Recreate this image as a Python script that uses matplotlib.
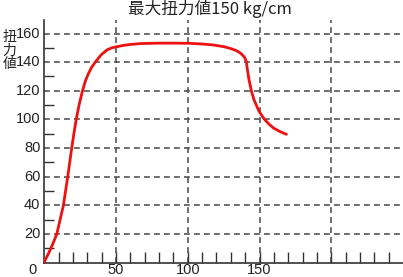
import matplotlib
matplotlib.use("Agg")
import matplotlib.pyplot as plt
import numpy as np

plt.rcParams['font.family'] = ['Noto Sans CJK JP', 'DejaVu Sans']

# torque curve
rpm = [0, 0.5, 2, 4, 6.3, 8.7, 11, 13.3, 14.8, 16.3, 17.7, 19.1, 20.6, 22.2, 24.3,
       26.6, 28.6, 30.8, 33, 35.5, 39.5, 43.6, 47, 50.6, 55, 60, 67, 80, 90, 100.7,
       110, 118, 125.2, 130, 134, 136.9, 139.5, 140.8, 141.5, 142.7, 144.3, 146.2,
       149.5, 153.1, 156.5, 160, 164.5, 168.8]
torque = [0, 1.7, 4.5, 8.7, 14, 20, 30, 40, 50, 60, 70, 80, 90, 100, 110.5,
          120, 126.8, 132.2, 136.5, 140, 145, 148.5, 150, 150.8, 151.7, 152.4, 153,
          153.3, 153.3, 153.2, 152.7, 152, 150.8, 149.5, 148, 146.2, 143.5, 140.5,
          135, 127.5, 120, 113.6, 106, 100.5, 96.8, 93.8, 91.4, 89.6]

xmajor = [50, 100, 150, 200]
ymajor = [20, 40, 60, 80, 100, 120, 140, 160]
xlabels = ['50', '100', '150']

fig = plt.figure(figsize=(4.03, 2.77), dpi=100)
ax = fig.add_axes([0.110, 0.052, 0.89, 0.876])

for x in xmajor:
    ax.axvline(x, color='#555555', lw=1.2, ls=(0, (3.5, 2.5)), zorder=1)
for y in ymajor:
    ax.axhline(y, color='#555555', lw=1.2, ls=(0, (3.5, 2.5)), zorder=1)

ax.plot(rpm, torque, color='#ee1111', lw=2, zorder=3, solid_capstyle='round')

ax.set_xlim(0, 250)
ax.set_ylim(0, 169.5)
for s in ['top', 'right']:
    ax.spines[s].set_visible(False)
for s in ['left', 'bottom']:
    ax.spines[s].set_color('#333333')
    ax.spines[s].set_linewidth(1.2)

ax.set_xticks(np.arange(10, 250, 10))
ax.set_xticklabels([])
ax.tick_params(axis='x', direction='in', length=8, width=1, color='#333333')
ax.set_yticks(np.arange(10, 170, 20))
ax.set_yticklabels([])
ax.tick_params(axis='y', direction='in', length=7, width=1, color='#333333')

num = dict(fontsize=10.5, color='#222222', family='Liberation Sans', clip_on=False)
for x, lab in zip(xmajor, xlabels):
    ax.text(x, -5.5, lab, ha='center', va='center', **num)
for y in ymajor:
    ax.text(-2.8, y, str(y), ha='right', va='center', **num)
ax.text(-7.9, -5.5, '0', ha='center', va='center', **num)

fig.text(0.522, 0.966, '最大扭力値150 kg/cm', ha='center', va='center',
         fontsize=12, color='#222222')
fig.text(0.023, 0.818, '扭\n力\n値', ha='center', va='center', fontsize=10,
         color='#222222', linespacing=0.95)

fig.savefig('out.png', dpi=100)
